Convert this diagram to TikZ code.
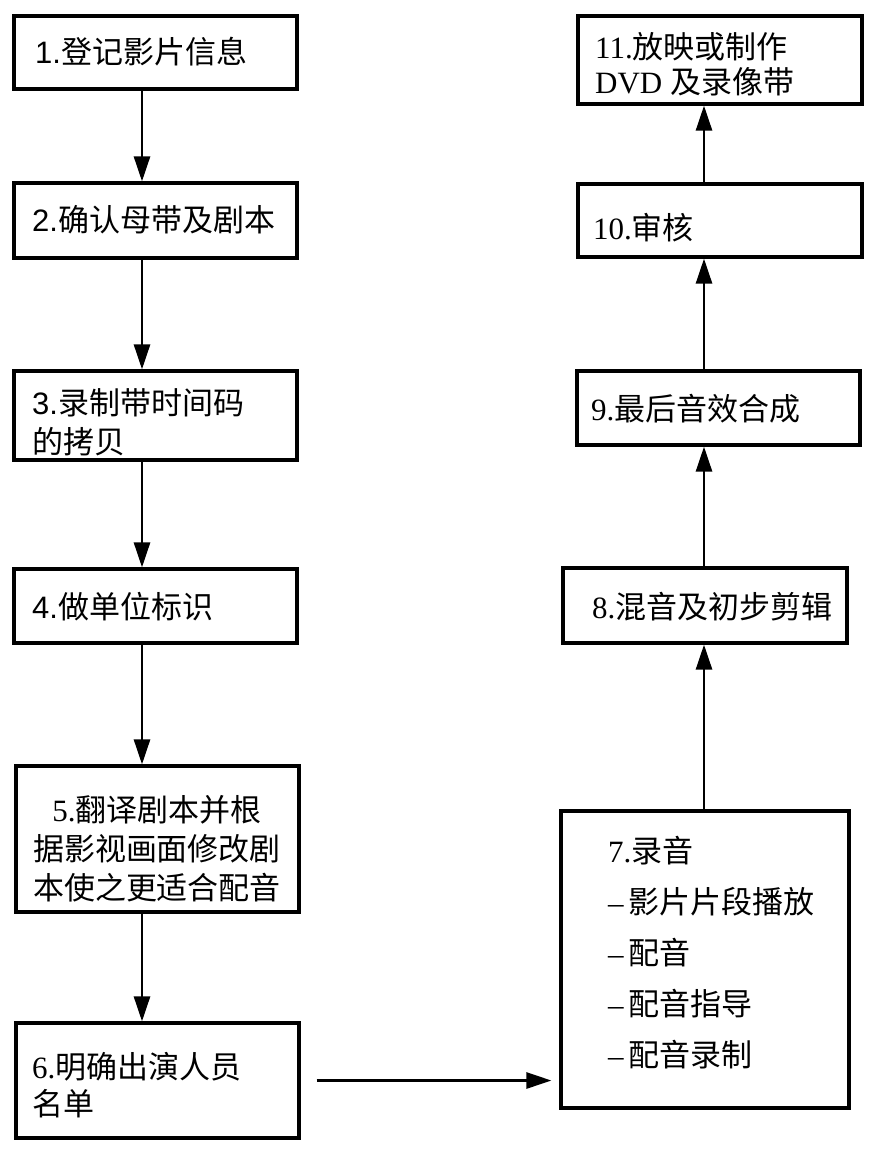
\documentclass[tikz,border=0pt]{standalone}
\usepackage{fontspec}
\setmainfont{Liberation Serif}
\newfontfamily\cjk{Noto Sans CJK SC}
\newfontfamily\lsans{Liberation Sans}
\newcommand{\zh}[1]{{\cjk #1}}
\newcommand{\ls}[1]{{\lsans #1}}
\usetikzlibrary{arrows.meta}
\tikzset{
  box/.style={draw=black, line width=3.2pt, inner sep=0pt},
  lbl/.style={inner sep=0pt, anchor=west, align=left, font=\fontsize{31}{#1}\selectfont},
  lbl/.default=39,
  arr/.style={draw=black, line width=2.7pt, -{Triangle[length=25pt,width=16pt]}},
}
\begin{document}
\begin{tikzpicture}[x=1pt,y=-1pt]
\useasboundingbox (0,0) rectangle (886,1149);
% boxes
\node[box, minimum width=283pt, minimum height=73pt] (b1) at (155.5,52.5) {};
\node[box, minimum width=283pt, minimum height=75pt] (b2) at (155.5,220.5) {};
\node[box, minimum width=283pt, minimum height=89pt] (b3) at (155.5,415.5) {};
\node[box, minimum width=283pt, minimum height=74pt] (b4) at (155.5,606) {};
\node[box, minimum width=283pt, minimum height=146pt] (b5) at (157.5,839) {};
\node[box, minimum width=283pt, minimum height=115pt] (b6) at (157.5,1080.5) {};
\node[box, minimum width=288pt, minimum height=297pt] (b7) at (705,959.5) {};
\node[box, minimum width=284pt, minimum height=75pt] (b8) at (705,605.5) {};
\node[box, minimum width=283pt, minimum height=74pt] (b9) at (718.5,408) {};
\node[box, minimum width=284pt, minimum height=73pt] (b10) at (720,220.5) {};
\node[box, minimum width=284pt, minimum height=88pt] (b11) at (720,60) {};
% labels
\node[lbl] (t1) at (35,52) {\ls{1.}\zh{登记影片信息}};
\node[lbl] (t2) at (32,220) {\ls{2.}\zh{确认母带及剧本}};
\node[lbl] (t3) at (32,422) {\ls{3.}\zh{录制带时间码}\\\zh{的拷贝}};
\node[lbl] (t4) at (32,607) {\ls{4.}\zh{做单位标识}};
\node[lbl, anchor=center, align=center] (t5) at (157,849) {5.\zh{翻译剧本并根}\\\zh{据影视画面修改剧}\\\zh{本使之更适合配音}};
\node[lbl=37] (t6) at (32,1085) {6.\zh{明确出演人员}\\\zh{名单}};
\node[lbl=51] (t7) at (608,953) {7.\zh{录音}\\–\,\zh{影片片段播放}\\–\,\zh{配音}\\–\,\zh{配音指导}\\–\,\zh{配音录制}};
\node[lbl] (t8) at (592,607) {8.\zh{混音及初步剪辑}};
\node[lbl] (t9) at (591,409) {9.\zh{最后音效合成}};
\node[lbl] (t10) at (593,228) {10.\zh{审核}};
\node[lbl=35] (t11) at (595,64) {11.\zh{放映或制作}\\DVD \zh{及录像带}};
% arrows
\coordinate (L) at (142,0);
\coordinate (R) at (704,0);
\draw[arr] (b1.south -| L) -- (b2.north -| L);
\draw[arr] (b2.south -| L) -- (b3.north -| L);
\draw[arr] (b3.south -| L) -- (b4.north -| L);
\draw[arr] (b4.south -| L) -- (b5.north -| L);
\draw[arr] (b5.south -| L) -- (b6.north -| L);
\draw[arr, shorten <=16pt, shorten >=8pt] (b6.east) -- (b6.east -| b7.west);
\draw[arr] (b7.north -| R) -- (b8.south -| R);
\draw[arr] (b8.north -| R) -- (b9.south -| R);
\draw[arr] (b9.north -| R) -- (b10.south -| R);
\draw[arr] (b10.north -| R) -- (b11.south -| R);
\end{tikzpicture}
\end{document}
